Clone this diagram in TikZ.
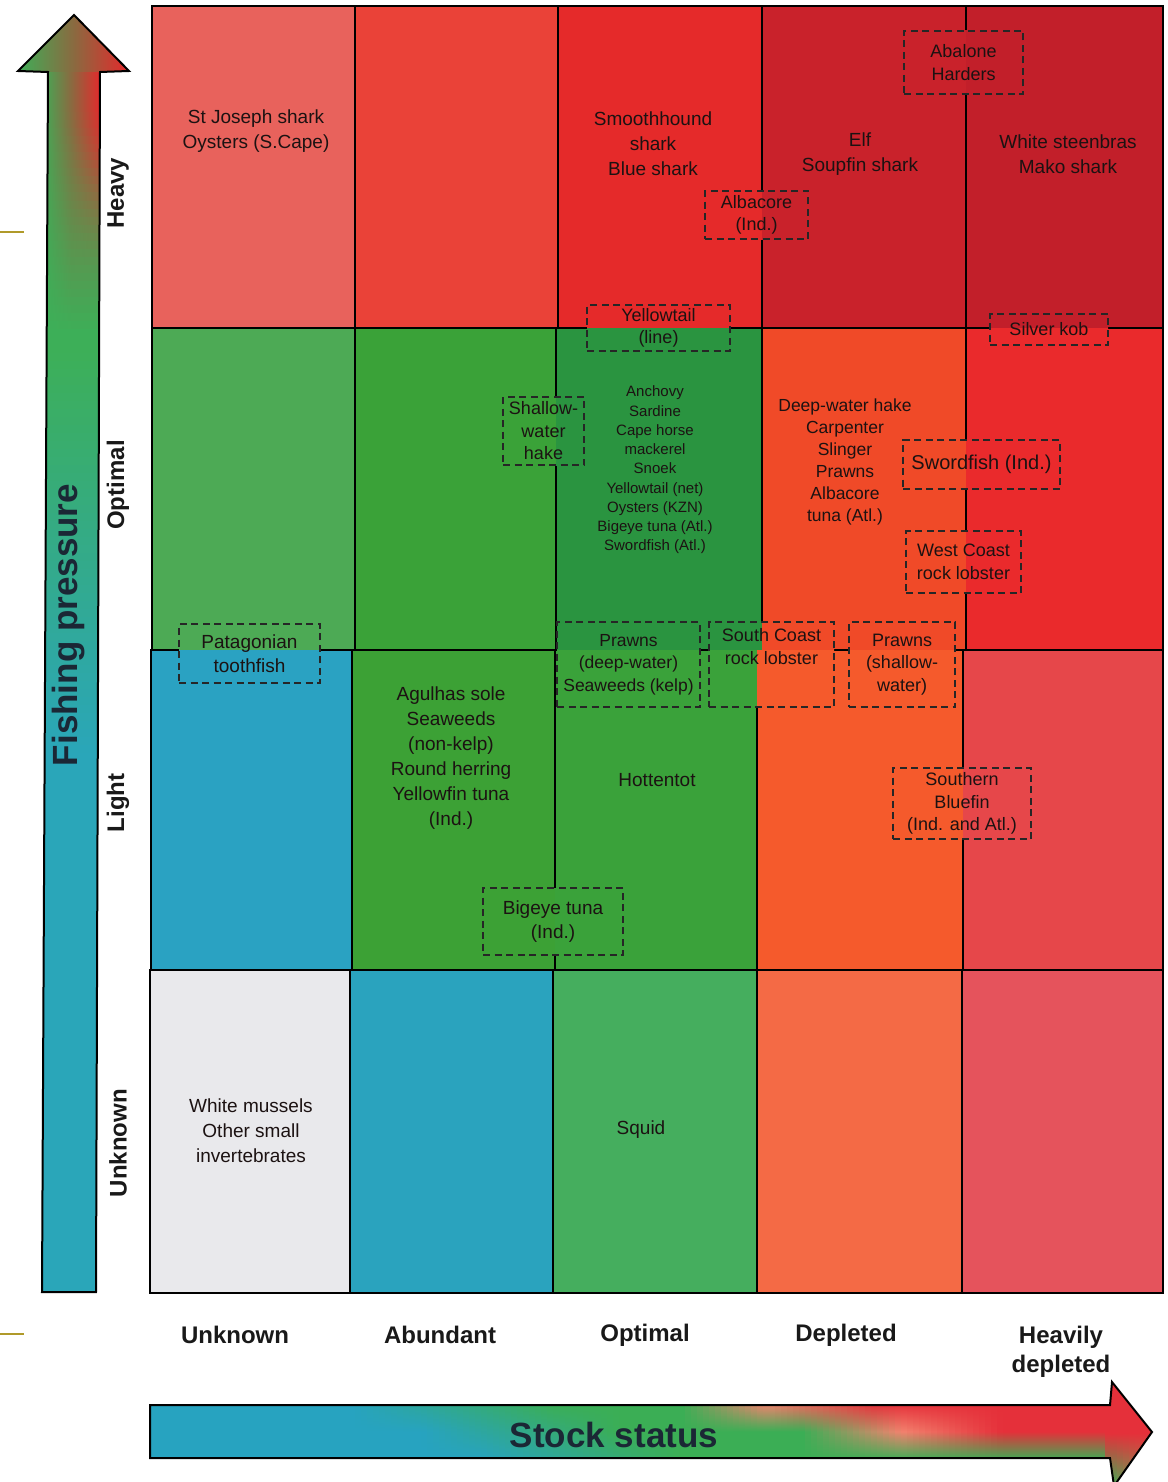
\documentclass[tikz,border=0pt]{standalone}
\usepackage{fontspec}
\setmainfont{Liberation Sans}
\definecolor{aa}{HTML}{E8625C}
\definecolor{ab}{HTML}{EA4238}
\definecolor{ac}{HTML}{E52A2A}
\definecolor{ad}{HTML}{C9222B}
\definecolor{ae}{HTML}{C21F2A}
\definecolor{ba}{HTML}{4DAA55}
\definecolor{bb}{HTML}{3AA238}
\definecolor{bc}{HTML}{2A9440}
\definecolor{bd}{HTML}{F04A28}
\definecolor{be}{HTML}{EA2A2C}
\definecolor{ca}{HTML}{2AA2C2}
\definecolor{cb}{HTML}{3CA135}
\definecolor{cc}{HTML}{3AA23A}
\definecolor{cd}{HTML}{F55A2C}
\definecolor{ce}{HTML}{E6474A}
\definecolor{da}{HTML}{E9E9EC}
\definecolor{db}{HTML}{2AA3BE}
\definecolor{dc}{HTML}{45AE5E}
\definecolor{dd}{HTML}{F46A45}
\definecolor{de}{HTML}{E5535C}
\definecolor{txt}{HTML}{1C1212}
\definecolor{GreenA}{HTML}{3DAF58}
\definecolor{TealA}{HTML}{2AA6B9}
\definecolor{BrownM}{HTML}{8A6A40}
\definecolor{RedR}{HTML}{E8262B}
\definecolor{TealH}{HTML}{27A3C0}
\definecolor{GreenH}{HTML}{3BAE55}
\definecolor{SalmonH}{HTML}{F2826E}
\definecolor{RedH}{HTML}{E5303A}
\definecolor{OrangeH}{HTML}{F07050}
\definecolor{tickcol}{HTML}{B09A2A}
\definecolor{titlecol}{HTML}{1B2735}
\newcommand\cellfills{%
  \fill[aa] (152,6) rectangle (355,328);
  \fill[ab] (355,6) rectangle (558,328);
  \fill[ac] (558,6) rectangle (762,328);
  \fill[ad] (762,6) rectangle (966,328);
  \fill[ae] (966,6) rectangle (1163,328);
  \fill[ba] (152,328) rectangle (355,650);
  \fill[bb] (355,328) rectangle (556,650);
  \fill[bc] (556,328) rectangle (762,650);
  \fill[bd] (762,328) rectangle (966,650);
  \fill[be] (966,328) rectangle (1163,650);
  \fill[ca] (151,650) rectangle (352,970);
  \fill[cb] (352,650) rectangle (555,970);
  \fill[cc] (555,650) rectangle (757,970);
  \fill[cd] (757,650) rectangle (963,970);
  \fill[ce] (963,650) rectangle (1163,970);
  \fill[da] (150,970) rectangle (350,1293);
  \fill[db] (350,970) rectangle (553,1293);
  \fill[dc] (553,970) rectangle (757,1293);
  \fill[dd] (757,970) rectangle (962,1293);
  \fill[de] (962,970) rectangle (1163,1293);
}
\newcommand\boxbg[4]{\begin{scope}\clip (#1,#2) rectangle (#3,#4); \cellfills\end{scope}}
\begin{document}
\begin{tikzpicture}[x=1pt,y=-1pt,
  gridline/.style={draw=black, line width=2.6pt},
  celltext/.style={font=\fontsize{19}{25}\selectfont, align=center, text=txt, inner sep=0pt},
  smalltext/.style={font=\fontsize{15}{19.25}\selectfont, align=center, text=txt, inner sep=0pt},
  dbox/.style={draw=black!85, dash pattern=on 7pt off 4.5pt, line width=1.9pt, inner sep=0pt,
     align=center, text=txt, font=\fontsize{18}{22.5}\selectfont},
  axlab/.style={font=\bfseries\fontsize{24}{29}\selectfont, align=center, text=black!90, inner sep=0pt},
  bigtitle/.style={font=\bfseries\fontsize{35}{40}\selectfont, text=titlecol, inner sep=0pt},
  ticks/.style={draw=tickcol, line width=2pt}]
\useasboundingbox (0,0) rectangle (1167,1482);
\fill[white] (0,0) rectangle (1167,1482);

% decorative ticks
\coordinate (t1a) at (0,232); \coordinate (t1b) at (24,232);
\coordinate (t2a) at (0,1334); \coordinate (t2b) at (24,1334);
\draw[ticks] (t1a) -- (t1b);
\draw[ticks] (t2a) -- (t2b);

% vertical arrow (Fishing pressure)
\begin{scope}
  \clip (42,1292) -- (48,72) -- (18,71) -- (74,15) -- (129,71) -- (100,72) -- (96,1292) -- cycle;
  \foreach \y in {10,18,...,1298}{
    \pgfmathsetmacro\ya{max(0,min(100,(750-\y)/4))}
    \pgfmathsetmacro\yb{max(0,min(100,(330-\y)/2.2))}
    \pgfmathsetmacro\yr{max(0,min(100,(270-\y)/1.2))}
    \pgfmathsetmacro\xl{\y<74 ? 16 : 40}
    \pgfmathsetmacro\xr{\y<74 ? 131 : 102}
    \shade[left color=GreenA!\ya!TealA, right color=RedR!\yr!BrownM!\yb!GreenA!\ya!TealA,
           middle color=BrownM!\yb!GreenA!\ya!TealA] (\xl,\y-1) rectangle (\xr,\y+9);
  }
\end{scope}
\draw[line width=2pt, line join=miter] (42,1292) -- (48,72) -- (18,71) -- (74,15) -- (129,71) -- (100,72) -- (96,1292) -- cycle;
\node[bigtitle, rotate=90] (fp) at (69,625) {Fishing pressure};

% horizontal arrow (Stock status)
\begin{scope}
  \clip (150,1405) -- (1110,1405) -- (1112,1382) -- (1152,1432) -- (1114,1486) -- (1110,1458) -- (150,1458) -- cycle;
  \foreach \x in {146,152,...,1158}{
    \pgfmathsetmacro\ha{max(0,min(100,(\x-350)/2))}
    \pgfmathsetmacro\hb{max(0,min(100,(\x-680)/0.8))}
    \pgfmathsetmacro\hc{max(0,min(100,(\x-770)/1.0))}
    \pgfmathsetmacro\he{max(0,min(100,(\x-480)/2))}
    \pgfmathsetmacro\hf{max(0,min(60,(\x-1110)/0.6))}
    \pgfmathsetmacro\hd{max(0,min(100,(\x-420)/2))}
    \pgfmathsetmacro\hg{max(0,min(100,(\x-800)/1.0))}
    \pgfmathsetmacro\hh{max(0,min(100,(\x-900)/1.0))}
    \pgfmathsetmacro\yt{\x<1106 ? 1403 : 1378}
    \pgfmathsetmacro\yu{\x<1106 ? 1460 : 1488}
    \shade[top color=RedH!\hc!SalmonH!\hb!GreenH!\ha!TealH, bottom color=OrangeH!\hf!GreenH!\he!TealH,
           middle color=RedH!\hh!SalmonH!\hg!GreenH!\hd!TealH] (\x-1,\yt) rectangle (\x+7,\yu);
  }
\end{scope}
\draw[line width=2pt, line join=miter] (150,1405) -- (1110,1405) -- (1112,1382) -- (1152,1432) -- (1114,1486) -- (1110,1458) -- (150,1458) -- cycle;
\node[bigtitle] (ss) at (614,1435) {Stock status};

% grid cells
\cellfills
\foreach \xa/\xb in {152/355,355/558,558/762,762/966,966/1163} \draw[gridline] (\xa,6) rectangle (\xb,328);
\foreach \xa/\xb in {152/355,355/556,556/762,762/966,966/1163} \draw[gridline] (\xa,328) rectangle (\xb,650);
\foreach \xa/\xb in {151/352,352/555,555/757,757/963,963/1163} \draw[gridline] (\xa,650) rectangle (\xb,970);
\foreach \xa/\xb in {150/350,350/553,553/757,757/962,962/1163} \draw[gridline] (\xa,970) rectangle (\xb,1293);

% backgrounds inside dashed boxes (grid lines interrupted)
\boxbg{904}{31}{1023}{94}
\boxbg{705}{191}{808}{239}
\boxbg{587}{305}{730}{351}
\boxbg{990}{314}{1108}{345}
\boxbg{503}{397}{584}{465}
\boxbg{903}{440}{1060}{489}
\boxbg{906}{531}{1021}{593}
\boxbg{179}{624}{320}{683}
\boxbg{557}{622}{700}{707}
\boxbg{709}{622}{834}{707}
\boxbg{849}{622}{955}{707}
\boxbg{893}{768}{1031}{839}
\boxbg{483}{888}{623}{955}

% dashed boxes
\node[dbox, minimum width=119, minimum height=63] (abal) at (963.5,62.5) {Abalone\\Harders};
\node[dbox, minimum width=103, minimum height=48] (albi) at (756.5,215) {Albacore\\(Ind.)};
\node[dbox, minimum width=143, minimum height=46] (yell) at (658.5,328) {Yellowtail\\(line)};
\node[dbox, minimum width=118, minimum height=31] (silv) at (1049,329.5) {Silver kob};
\node[dbox, minimum width=81, minimum height=68] (shwh) at (543.5,431) {Shallow-\\water\\hake};
\node[dbox, minimum width=157, minimum height=49, font=\fontsize{20}{24}\selectfont] (swin) at (981.5,464.5) {Swordfish (Ind.)};
\node[dbox, minimum width=115, minimum height=62] (wcrl) at (963.5,562) {West Coast\\rock lobster};
\node[dbox, minimum width=141, minimum height=59, font=\fontsize{19}{24}\selectfont] (pato) at (249.5,653.5) {Patagonian\\toothfish};
\node[dbox, minimum width=143, minimum height=85, font=\fontsize{17.5}{22.5}\selectfont] (prdw) at (628.5,664.5) {Prawns\\(deep-water)\\Seaweeds (kelp)};
\node[dbox, minimum width=125, minimum height=85] (scrl) at (771.5,664.5) {South Coast\\rock lobster\\[14pt]};
\node[dbox, minimum width=106, minimum height=85] (prsw) at (902,664.5) {Prawns\\(shallow-\\water)};
\node[dbox, minimum width=138, minimum height=71] (sobf) at (962,803.5) {Southern\\Bluefin\\(Ind. and Atl.)};
\node[dbox, minimum width=140, minimum height=67, font=\fontsize{19}{24}\selectfont] (bigi) at (553,921.5) {Bigeye tuna\\(Ind.)};

% cell texts
\node[celltext] (stj) at (256,131) {St Joseph shark\\Oysters (S.Cape)};
\node[celltext] (smo) at (653,144) {Smoothhound\\shark\\Blue shark};
\node[celltext] (elf) at (860,154) {Elf\\Soupfin shark};
\node[celltext] (whs) at (1068,154) {White steenbras\\Mako shark};
\node[smalltext] (anc) at (655,470) {Anchovy\\Sardine\\Cape horse\\mackerel\\Snoek\\Yellowtail (net)\\Oysters (KZN)\\Bigeye tuna (Atl.)\\Swordfish (Atl.)};
\node[celltext, font=\fontsize{17.5}{22}\selectfont] (dwh) at (845,462) {Deep-water hake\\Carpenter\\Slinger\\Prawns\\Albacore\\tuna (Atl.)};
\node[celltext] (agu) at (451,758.5) {Agulhas sole\\Seaweeds\\(non-kelp)\\Round herring\\Yellowfin tuna\\(Ind.)};
\node[celltext] (hot) at (657,780) {Hottentot};
\node[celltext] (whm) at (251,1131) {White mussels\\Other small\\invertebrates};
\node[celltext] (squ) at (641,1130) {Squid};

% axis labels
\node[axlab] (xunk) at (235,1335) {Unknown};
\node[axlab] (xabu) at (440,1335) {Abundant};
\node[axlab] (xopt) at (645,1335) {Optimal};
\node[axlab] (xdep) at (846,1335) {Depleted};
\node[axlab] (xhdp) at (1061,1352) {Heavily\\depleted};
\node[axlab, rotate=90] (yhea) at (118,193) {Heavy};
\node[axlab, rotate=90] (yopt) at (118,485) {Optimal};
\node[axlab, rotate=90] (ylig) at (118,803) {Light};
\node[axlab, rotate=90] (yunk) at (118,1143) {Unknown};
\end{tikzpicture}
\end{document}
